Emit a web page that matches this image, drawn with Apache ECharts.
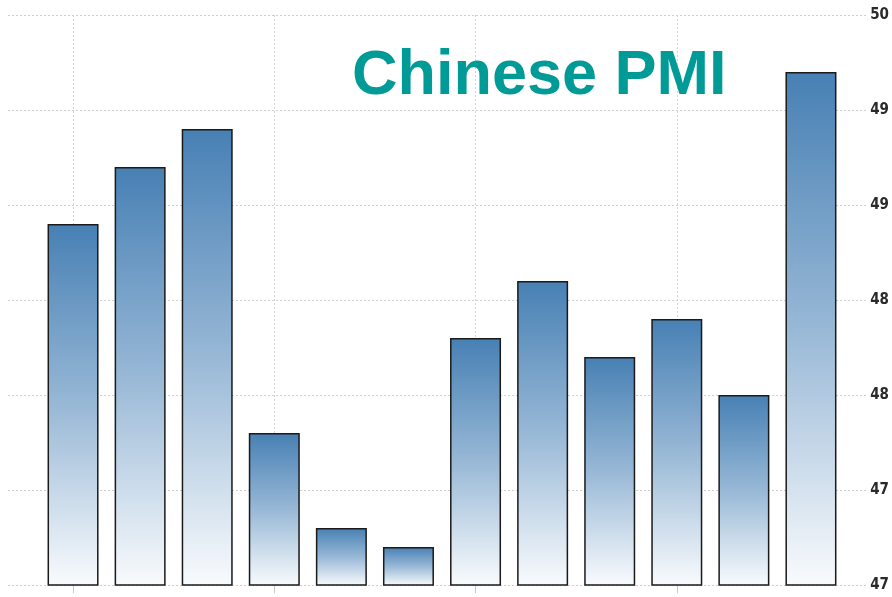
<!DOCTYPE html>
<html>
<head>
<meta charset="utf-8">
<script src="https://cdn.jsdelivr.net/npm/echarts@6/dist/echarts.min.js"></script>
<style>html,body{margin:0;padding:0;background:#fff}#c{width:892px;height:597px}</style>
</head>
<body>
<div id="c"></div>
<script>
const categories = ['1','2','3','4','5','6','7','8','9','10','11','12'];
const pmiValues = [48.9, 49.2, 49.4, 47.8, 47.3, 47.2, 48.3, 48.6, 48.2, 48.4, 48.0, 49.7];
const yTickLabels = ['47','47','48','48','49','49','50'];
const titleText = 'Chinese PMI';

const chart = echarts.init(document.getElementById('c'));
chart.setOption({
  animation: false,
  backgroundColor: '#ffffff',
  title: {
    text: titleText, left: 347, top: 40,
    textStyle: { color: '#009a97', fontSize: 63, fontWeight: 'bold', fontFamily: 'Liberation Sans, Arial, sans-serif' }
  },
  grid: [
    { left: 39.5, right: 47.5, top: 15, bottom: 12 },
    { left: 8, right: 17, top: 15, bottom: 12 }
  ],
  xAxis: [
    {
      type: 'category', data: categories, gridIndex: 0, boundaryGap: true,
      axisLine: { show: false },
      axisLabel: { show: false },
      axisTick: { show: true, interval: 2, alignWithLabel: true, length: 8, lineStyle: { color: '#c8c8c8', width: 1 } },
      splitLine: { show: true, interval: 2, alignWithLabel: true, lineStyle: { color: '#d4d4d4', type: [2, 2], width: 1 } }
    },
    { type: 'value', gridIndex: 1, show: false, min: 0, max: 1 }
  ],
  yAxis: [
    { type: 'value', gridIndex: 0, min: 47, max: 50, show: false, splitLine: { show: false } },
    {
      type: 'value', gridIndex: 1, min: 47, max: 50, interval: 0.5, position: 'right',
      axisLine: { show: false }, axisTick: { show: false },
      axisLabel: {
        margin: 3, color: '#2a2a2a', fontSize: 15, fontWeight: 'bold',
        fontFamily: 'DejaVu Sans Condensed, Liberation Sans Narrow, sans-serif',
        formatter: (v, i) => yTickLabels[i]
      },
      splitLine: { show: true, lineStyle: { color: '#cfcfcf', type: [2, 2], width: 1 } }
    }
  ],
  series: [{
    type: 'bar', xAxisIndex: 0, yAxisIndex: 0, data: pmiValues, barWidth: 51,
    itemStyle: {
      borderColor: '#1a1a1a', borderWidth: 1.5,
      color: new echarts.graphic.LinearGradient(0, 0, 0, 1, [
        { offset: 0, color: '#4780b4' },
        { offset: 0.5, color: '#98b8d6' },
        { offset: 1, color: '#f9fbfd' }
      ])
    }
  }]
});
</script>
</body>
</html>
